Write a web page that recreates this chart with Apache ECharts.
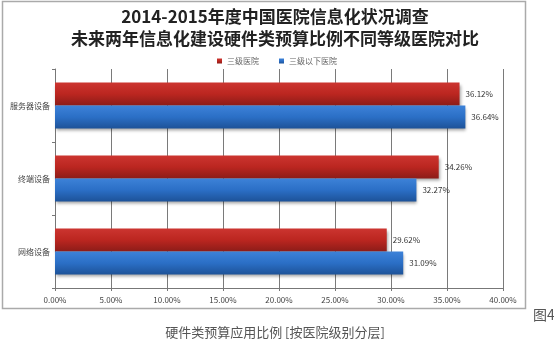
<!DOCTYPE html>
<html><head><meta charset="utf-8">
<script src="https://cdn.jsdelivr.net/npm/echarts@6/dist/echarts.min.js"></script>
<style>html,body{margin:0;padding:0;background:#fff}#c{width:554px;height:343px}</style>
</head><body><div id="c"></div>
<script>
var categories = ['服务器设备', '终端设备', '网络设备'];
var seriesNames = ['三级医院', '三级以下医院'];
var tier3 = [36.12, 34.26, 29.62];
var belowTier3 = [36.64, 32.27, 31.09];
var titleLines = ['2014-2015年度中国医院信息化状况调查', '未来两年信息化建设硬件类预算比例不同等级医院对比'];
var caption = '硬件类预算应用比例 [按医院级别分层]';
var figLabel = '图4';

function grad(c1, c2, c3) {
  return new echarts.graphic.LinearGradient(0, 0, 0, 1, [
    {offset: 0, color: c1}, {offset: 0.5, color: c2}, {offset: 1, color: c3}
  ]);
}
var chart = echarts.init(document.getElementById('c'));
var font = '"Noto Sans CJK SC", sans-serif';
chart.setOption({
  backgroundColor: '#fff',
  animation: false,
  title: [
    {text: titleLines.join('\n'), left: 270, textAlign: 'center', top: 1,
     textStyle: {fontFamily: font, fontSize: 17, fontWeight: 'bold', color: '#222', lineHeight: 22}},
    {text: caption, left: 270, textAlign: 'center', top: 321,
     textStyle: {fontFamily: font, fontSize: 13, fontWeight: 'normal', color: '#555'}},
    {text: figLabel, left: 528, top: 303,
     textStyle: {fontFamily: font, fontSize: 14, fontWeight: 'normal', color: '#555'}}
  ],
  graphic: [{type: 'rect', shape: {x: 2.5, y: 1.5, width: 523, height: 307},
    style: {fill: 'none', stroke: '#aaa', lineWidth: 1.5}, z: -1}],
  legend: {top: 52, left: 'center', itemWidth: 5, itemHeight: 5, itemGap: 20,
    icon: 'rect', textStyle: {fontFamily: font, fontSize: 8, color: '#666'}, data: seriesNames},
  grid: {left: 55, right: 51, top: 69, bottom: 55},
  xAxis: {type: 'value', min: 0, max: 40, interval: 5,
    axisLine: {show: true, lineStyle: {color: '#777'}},
    axisTick: {show: true, length: 3, lineStyle: {color: '#777'}},
    splitLine: {show: true, lineStyle: {color: '#7a7a7a', width: 1}},
    axisLabel: {fontFamily: font, fontSize: 8, color: '#444', margin: 8,
      formatter: function (v) { return v.toFixed(2) + '%'; }}},
  yAxis: {type: 'category', data: categories, inverse: true,
    axisLine: {show: true, lineStyle: {color: '#777'}},
    axisTick: {show: true, length: 3, lineStyle: {color: '#777'}},
    axisLabel: {fontFamily: font, fontSize: 8, color: '#444', margin: 5}},
  series: [
    {name: seriesNames[0], type: 'bar', data: tier3, barWidth: 23, barGap: '0%',
     itemStyle: {color: grad('#cc3530', '#bb2620', '#8c1c18'), shadowColor: 'rgba(0,0,0,0.35)', shadowBlur: 3, shadowOffsetY: 2, shadowOffsetX: 1},
     label: {show: true, position: 'right', distance: 6, fontFamily: font, fontSize: 8, color: '#333',
       formatter: function (p) { return p.value.toFixed(2) + '%'; }}},
    {name: seriesNames[1], type: 'bar', data: belowTier3, barWidth: 23, barGap: '0%',
     itemStyle: {color: grad('#3d82d8', '#2b6fc6', '#1d5298'), shadowColor: 'rgba(0,0,0,0.35)', shadowBlur: 3, shadowOffsetY: 2, shadowOffsetX: 1},
     label: {show: true, position: 'right', distance: 6, fontFamily: font, fontSize: 8, color: '#333',
       formatter: function (p) { return p.value.toFixed(2) + '%'; }}}
  ]
});
</script></body></html>
